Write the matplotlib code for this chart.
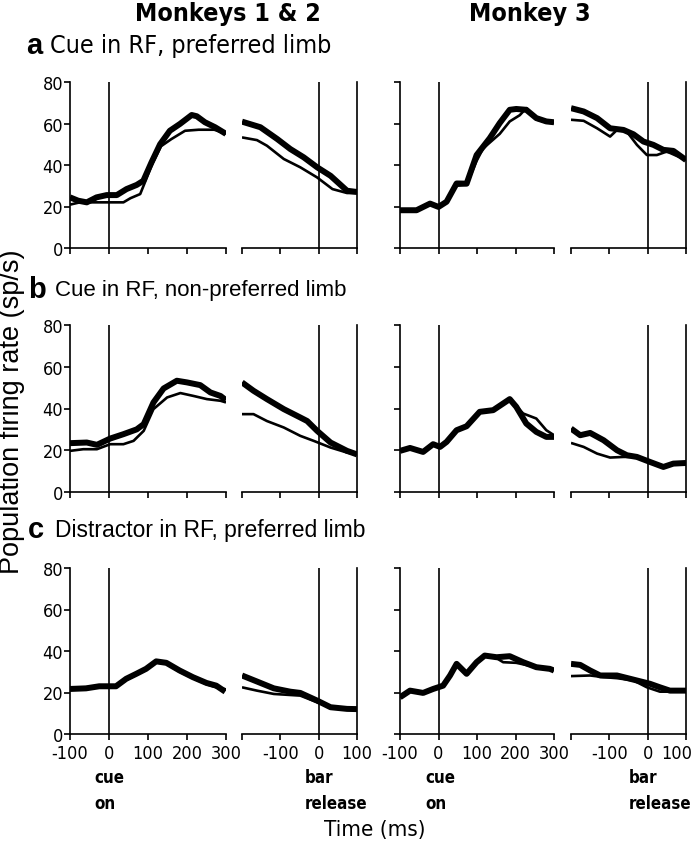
import numpy as np
import matplotlib
matplotlib.use("Agg")
import matplotlib.pyplot as plt
from matplotlib.transforms import ScaledTranslation

W, H = 691, 853
NARROW = dict(family="DejaVu Sans", fontstretch="condensed")
REG = dict(family=["Liberation Sans", "DejaVu Sans"])

# ── Data ──
# panel a, Monkeys 1 & 2
a12_cue_t1 = [-100, -79, -57, -32, -6, 20, 45, 71, 88, 109, 131, 156, 182, 212, 225, 246, 272, 300]
a12_cue_y1 = [24.4, 22.8, 22.0, 24.4, 25.5, 25.5, 28.4, 30.4, 32.4, 41.3, 50.0, 56.5, 59.8, 64.1, 63.5, 60.6, 58.2, 55.0]
a12_cue_t2 = [-100, -77, -55, 0, 37, 55, 80, 95, 109, 133, 160, 195, 230, 270, 300]
a12_cue_y2 = [20.9, 21.9, 22.0, 22.0, 22.0, 24.0, 26.0, 33.0, 39.7, 49.0, 52.5, 56.5, 57.0, 57.0, 55.0]
a12_rel_t1 = [-200, -152, -108, -74, -39, -4, 31, 74, 100]
a12_rel_y1 = [60.9, 58.2, 52.5, 47.7, 43.7, 38.9, 34.8, 27.6, 27.0]
a12_rel_t2 = [-200, -161, -135, -91, -48, -4, 36, 74, 100]
a12_rel_y2 = [53.3, 52.0, 49.3, 42.9, 38.9, 34.0, 28.4, 26.5, 26.5]
# panel a, Monkey 3
a3_cue_t1 = [-100, -57, -22, 0, 21, 47, 73, 99, 133, 159, 185, 202, 228, 254, 280, 300]
a3_cue_y1 = [18.2, 18.2, 21.4, 19.8, 22.3, 31.1, 31.0, 44.8, 52.9, 60.2, 66.6, 67.0, 66.6, 62.6, 61.0, 60.6]
a3_cue_t2 = [-100, -57, -22, 0, 21, 47, 73, 99, 116, 159, 185, 211, 228, 254, 280, 300]
a3_cue_y2 = [18.2, 18.2, 21.4, 19.8, 22.3, 30.0, 30.5, 42.0, 48.0, 55.0, 61.0, 64.0, 67.4, 62.0, 60.5, 60.2]
a3_rel_t1 = [-200, -167, -132, -98, -63, -37, -11, 15, 41, 67, 100]
a3_rel_y1 = [67.4, 65.8, 62.6, 57.7, 56.9, 54.8, 51.3, 49.7, 47.3, 46.8, 42.4]
a3_rel_t2 = [-200, -167, -132, -98, -80, -54, -28, -2, 24, 50, 100]
a3_rel_y2 = [61.8, 61.3, 57.7, 53.7, 56.9, 56.0, 49.7, 44.8, 44.8, 46.5, 42.4]

# panel b, Monkeys 1 & 2
b12_cue_t1 = [-100, -57, -31, 3, 37, 71, 89, 114, 140, 174, 200, 234, 260, 286, 300]
b12_cue_y1 = [23.4, 23.7, 22.6, 25.6, 27.7, 30.0, 32.5, 42.9, 49.6, 53.3, 52.5, 51.2, 47.7, 46.0, 44.0]
b12_cue_t2 = [-100, -66, -31, 3, 37, 63, 89, 114, 149, 183, 217, 251, 286, 300]
b12_cue_y2 = [19.7, 20.5, 20.5, 22.9, 22.9, 24.5, 29.3, 39.7, 45.3, 47.4, 46.0, 44.5, 43.7, 42.9]
b12_rel_t1 = [-200, -170, -135, -91, -48, -30, -4, 31, 74, 100]
b12_rel_y1 = [52.5, 48.5, 44.5, 39.7, 35.7, 34.0, 29.3, 23.7, 19.7, 18.0]
b12_rel_t2 = [-200, -170, -135, -91, -48, -13, 31, 74, 100]
b12_rel_y2 = [37.3, 37.3, 34.0, 30.9, 26.9, 24.5, 21.3, 18.9, 18.0]
# panel b, Monkey 3
b3_cue_t1 = [-100, -74, -40, -14, 4, 21, 47, 73, 107, 142, 168, 185, 202, 228, 254, 280, 300]
b3_cue_y1 = [19.7, 21.1, 19.2, 22.9, 21.6, 24.0, 29.6, 31.5, 38.4, 39.2, 42.4, 44.5, 40.8, 32.8, 28.8, 26.4, 26.4]
b3_cue_t2 = [-100, -74, -40, -14, 4, 21, 47, 73, 107, 142, 168, 185, 220, 254, 280, 300]
b3_cue_y2 = [19.7, 21.1, 19.2, 22.9, 21.6, 24.0, 29.6, 31.5, 38.4, 39.2, 42.4, 44.5, 37.6, 35.2, 29.6, 27.2]
b3_rel_t1 = [-200, -176, -150, -115, -80, -54, -28, 6, 41, 67, 100]
b3_rel_y1 = [30.4, 27.2, 28.3, 24.8, 20.0, 17.6, 16.8, 14.4, 12.0, 13.6, 13.9]
b3_rel_t2 = [-200, -167, -132, -98, -63, -37, 6, 41, 67, 100]
b3_rel_y2 = [23.5, 21.6, 18.4, 16.5, 16.8, 16.8, 14.4, 12.5, 13.6, 13.9]

# panel c, Monkeys 1 & 2
c12_cue_t1 = [-100, -59, -25, 18, 44, 70, 95, 121, 147, 181, 215, 250, 275, 298]
c12_cue_y1 = [21.7, 22.0, 23.0, 23.0, 26.6, 29.0, 31.4, 35.0, 34.3, 30.6, 27.4, 24.6, 23.3, 20.4]
c12_cue_t2 = [-100, -59, -25, 18, 44, 70, 95, 121, 147, 181, 215, 250, 275, 300]
c12_cue_y2 = [22.5, 22.5, 23.0, 23.0, 26.0, 28.5, 31.0, 34.5, 34.0, 30.0, 27.0, 24.0, 22.5, 21.5]
c12_rel_t1 = [-200, -161, -117, -74, -48, -4, 31, 74, 100]
c12_rel_y1 = [28.2, 25.3, 22.0, 20.4, 19.8, 16.1, 12.9, 12.1, 12.0]
c12_rel_t2 = [-200, -161, -117, -74, -48, -4, 31, 74, 100]
c12_rel_y2 = [22.5, 20.9, 19.3, 18.8, 18.5, 15.3, 12.9, 12.1, 12.0]
# panel c, Monkey 3
c3_cue_t1 = [-100, -74, -40, -14, 12, 30, 47, 73, 99, 120, 151, 185, 220, 254, 289, 300]
c3_cue_y1 = [17.7, 20.9, 19.8, 21.7, 23.3, 28.2, 33.8, 29.0, 34.6, 37.8, 37.0, 37.5, 34.6, 32.2, 31.4, 30.6]
c3_cue_t2 = [-100, -74, -40, -14, 12, 30, 47, 73, 99, 120, 151, 168, 202, 254, 289, 300]
c3_cue_y2 = [17.7, 20.9, 19.8, 21.7, 23.3, 28.2, 33.8, 29.0, 34.6, 37.8, 36.5, 34.6, 34.3, 32.2, 31.4, 30.6]
c3_rel_t1 = [-200, -176, -150, -124, -80, -37, 6, 32, 58, 100]
c3_rel_y1 = [33.8, 33.3, 30.6, 28.2, 28.2, 26.2, 24.2, 22.5, 20.9, 20.9]
c3_rel_t2 = [-200, -150, -115, -80, -37, -2, 32, 100]
c3_rel_y2 = [27.9, 28.2, 27.4, 26.9, 25.8, 22.5, 20.4, 20.4]

Y_TICKS = [0, 20, 40, 60, 80]
CUE_TICKS = [-100, 0, 100, 200, 300]
REL_TICKS = [-200, -100, 0, 100]
REL_LABELS = ["", "-100", "0", "100"]

# ── Layout (pixels) ──
ROWS = [(83, 249), (326, 493), (569, 735)]
COLS = [(70, 226, 242, 357), (400, 554, 571, 686)]
PANEL_DATA = [
    [(a12_cue_t1, a12_cue_y1, a12_cue_t2, a12_cue_y2, a12_rel_t1, a12_rel_y1, a12_rel_t2, a12_rel_y2),
     (a3_cue_t1, a3_cue_y1, a3_cue_t2, a3_cue_y2, a3_rel_t1, a3_rel_y1, a3_rel_t2, a3_rel_y2)],
    [(b12_cue_t1, b12_cue_y1, b12_cue_t2, b12_cue_y2, b12_rel_t1, b12_rel_y1, b12_rel_t2, b12_rel_y2),
     (b3_cue_t1, b3_cue_y1, b3_cue_t2, b3_cue_y2, b3_rel_t1, b3_rel_y1, b3_rel_t2, b3_rel_y2)],
    [(c12_cue_t1, c12_cue_y1, c12_cue_t2, c12_cue_y2, c12_rel_t1, c12_rel_y1, c12_rel_t2, c12_rel_y2),
     (c3_cue_t1, c3_cue_y1, c3_cue_t2, c3_cue_y2, c3_rel_t1, c3_rel_y1, c3_rel_t2, c3_rel_y2)],
]

fig = plt.figure(figsize=(W / 100, H / 100), dpi=100)

def px_axes(x0, x1, ytop, ybot):
    return fig.add_axes([x0 / W, 1 - ybot / H, (x1 - x0) / W, (ybot - ytop) / H])

THICK, THIN = 4.3, 1.9
AX_LW = 1.2

def style(ax, xlim, xticks, xlabels, left=True, right=False, ylabels=True):
    ax.set_xlim(*xlim)
    ax.set_ylim(0, 80)
    ax.spines["top"].set_visible(False)
    ax.spines["left"].set_visible(left)
    ax.spines["right"].set_visible(right)
    for s in ax.spines.values():
        s.set_linewidth(AX_LW)
    ax.set_xticks(xticks)
    ax.set_xticklabels(xlabels if xlabels is not None else [])
    if left:
        ax.set_yticks(Y_TICKS)
        ax.set_yticklabels([str(v) for v in Y_TICKS] if ylabels else [])
    else:
        ax.set_yticks([])
    ax.tick_params(length=4, width=AX_LW, direction="out", labelsize=13)
    ax.tick_params(axis="x", pad=3)
    ax.tick_params(axis="y", pad=1)
    for lab in ax.get_xticklabels() + ax.get_yticklabels():
        lab.set_family(NARROW["family"])
        lab.set_fontstretch(NARROW["fontstretch"])
    ax.patch.set_alpha(0)
    ax.axvline(0, color="black", lw=AX_LW, zorder=1)

def trace(ax, t, y, lw):
    ax.plot(t, y, color="black", lw=lw, solid_joinstyle="round", solid_capstyle="butt", zorder=3)

for r, (ytop, ybot) in enumerate(ROWS):
    for c, (cx0, cx1, rx0, rx1) in enumerate(COLS):
        ct1, cy1, ct2, cy2, rt1, ry1, rt2, ry2 = PANEL_DATA[r][c]
        show_x = (r == 2)
        ax = px_axes(cx0, cx1, ytop, ybot)
        trace(ax, ct1, cy1, THICK)
        trace(ax, ct2, cy2, THIN)
        style(ax, (-100, 300), CUE_TICKS,
              [str(v) for v in CUE_TICKS] if show_x else None,
              left=True, ylabels=(c == 0))
        ax2 = px_axes(rx0, rx1, ytop, ybot)
        trace(ax2, rt1, ry1, THICK)
        trace(ax2, rt2, ry2, THIN)
        style(ax2, (-200, 100), REL_TICKS, REL_LABELS if show_x else None,
              left=False, right=True)
        if show_x and c == 1:
            # last label sits against the figure edge: nudge it inward
            last = ax2.get_xticklabels()[-1]
            last.set_transform(last.get_transform() + ScaledTranslation(-9 / 100, 0, fig.dpi_scale_trans))

# ── Text ──
def ftext(x, y, s, **kw):
    fig.text(x / W, 1 - y / H, s, **kw)

ftext(228, 14, "Monkeys 1 & 2", ha="center", va="center", fontsize=18, fontweight="bold", **NARROW)
ftext(530, 14, "Monkey 3", ha="center", va="center", fontsize=18, fontweight="bold", **NARROW)

ftext(26, 46, "a", ha="left", va="center", fontsize=21, fontweight="bold", **REG)
ftext(50, 46, "Cue in RF, preferred limb", ha="left", va="center", fontsize=18, **NARROW)
ftext(28, 290, "b", ha="left", va="center", fontsize=21, fontweight="bold", **REG)
ftext(55, 291, "Cue in RF, non-preferred limb", ha="left", va="center", fontsize=16, **REG)
ftext(28, 530, "c", ha="left", va="center", fontsize=21, fontweight="bold", **REG)
ftext(55, 531, "Distractor in RF, preferred limb", ha="left", va="center", fontsize=16.5, **REG)

ftext(12, 412, "Population firing rate (sp/s)", ha="center", va="center", rotation=90, fontsize=19.5, **REG)
ftext(375, 830, "Time (ms)", ha="center", va="center", fontsize=16, **NARROW)

for x, s in [(94, "cue\non"), (305, "bar\nrelease"), (425, "cue\non"), (629, "bar\nrelease")]:
    ftext(x, 769, s, ha="left", va="top", fontsize=12.2, fontweight="bold", linespacing=1.6, **NARROW)

fig.savefig("out.png", dpi=100)
